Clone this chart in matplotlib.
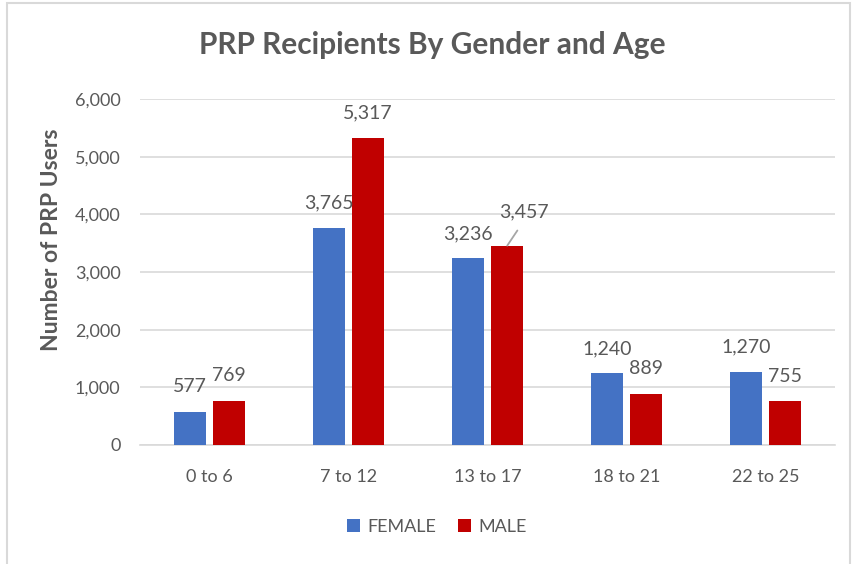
import matplotlib
matplotlib.use("Agg")
import matplotlib.pyplot as plt
import numpy as np
from matplotlib.patches import Rectangle

age_groups = ["0 to 6", "7 to 12", "13 to 17", "18 to 21", "22 to 25"]
female = [577, 3765, 3236, 1240, 1270]
male = [769, 5317, 3457, 889, 755]
y_ticks = [0, 1000, 2000, 3000, 4000, 5000, 6000]

plt.rcParams["font.family"] = ["Lato", "DejaVu Sans"]
gray = "#595959"

fig = plt.figure(figsize=(8.53, 5.64), dpi=100)
ax = fig.add_axes([0.1641, 0.2110, 0.8148, 0.6135])

x = np.arange(len(age_groups))
width = 0.227
off = 0.142
bars_f = ax.bar(x - off, female, width, color="#4472C4", label="FEMALE", zorder=3)
bars_m = ax.bar(x + off, male, width, color="#C00000", label="MALE", zorder=3)

ax.set_xlim(-0.5, len(age_groups) - 0.5)
ax.set_ylim(0, 6000)
ax.set_yticks(y_ticks)
ax.set_yticklabels([f"{v:,}" for v in y_ticks])
ax.set_xticks(x)
ax.set_xticklabels(age_groups)
ax.tick_params(axis="y", length=0, pad=14, labelsize=13, labelcolor=gray)
ax.tick_params(axis="x", length=0, pad=17, labelsize=13, labelcolor=gray)
ax.grid(axis="y", color="#D9D9D9", linewidth=1.2, zorder=0)
for s in ["top", "right", "left"]:
    ax.spines[s].set_visible(False)
ax.spines["bottom"].set_color("#D9D9D9")
ax.spines["bottom"].set_linewidth(1.2)

# data labels
for bars in (bars_f, bars_m):
    for b in bars:
        v = b.get_height()
        cx = b.get_x() + b.get_width() / 2
        if bars is bars_m and v == 3457:
            # this one was dragged up and right in the original, with a leader line
            ax.annotate(f"{v:,}", (cx, v), xytext=(12, 24), textcoords="offset points",
                        ha="center", va="center", fontsize=14, color=gray,
                        arrowprops=dict(arrowstyle="-", color="#A6A6A6", lw=1.3,
                                        relpos=(0.5, 0), shrinkA=6, shrinkB=0))
        else:
            ax.annotate(f"{v:,}", (cx, v), xytext=(0, 18), textcoords="offset points",
                        ha="center", va="center", fontsize=14, color=gray)

fig.text(0.507, 1 - 45 / 564, "PRP Recipients By Gender and Age", ha="center", va="center",
         fontsize=21.5, fontweight="bold", color=gray)
fig.text(52 / 853, 1 - 240 / 564, "Number of PRP Users", rotation=90, ha="center", va="center",
         fontsize=16.5, fontweight="bold", color=gray)

fig.legend(handles=[bars_f, bars_m], loc="center", bbox_to_anchor=(0.512, 0.0656),
           ncol=2, frameon=False, fontsize=13, labelcolor=gray,
           handlelength=0.75, handleheight=0.75, handletextpad=0.4, columnspacing=1.2)

fig.patches.append(Rectangle((7 / 853, -0.02), 843 / 853, 1.02 - 3 / 564,
                             transform=fig.transFigure, fill=False,
                             edgecolor="#D9D9D9", linewidth=1.5))

plt.savefig("out.png", dpi=100)
